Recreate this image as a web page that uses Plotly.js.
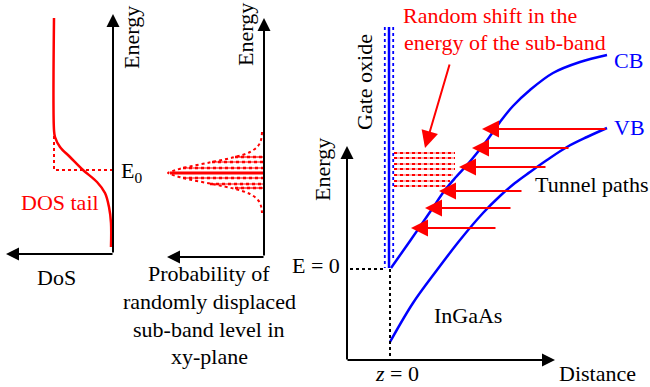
<!DOCTYPE html>
<html><head><meta charset="utf-8">
<script src="https://cdn.plot.ly/plotly-3.0.1.min.js"></script>
<style>html,body{margin:0;padding:0;background:#fff}#plot{width:650px;height:387px}</style>
</head><body><div id="plot"></div>
<script>
// ---- data (schematic; coordinates in picture units) ----
// Panel 1: DOS tail curve
const dosX = [54, 54, 55, 60, 70, 83, 97, 105, 109, 111, 111];
const dosY = [18, 130, 137, 147, 157, 170, 182, 193, 207, 223, 247];
const e0DotX = [54, 54, 113];
const e0DotY = [130, 170, 170];
// Panel 2: gaussian distribution of sub-band level
const gaussX = [262, 261, 258, 250, 235, 212, 183, 170, 168, 170, 183, 212, 235, 250, 258, 261, 262];
const gaussY = [132, 140, 146, 152, 157, 162, 168, 172, 173, 174, 178, 184, 189, 194, 200, 206, 213];
const levelY = [157, 162, 168, 178, 184, 188];
const levelStart = [235, 212, 183, 183, 210, 235];
const centerLevelY = 173;
const centerLevelStart = 170;
// Panel 3: band diagram
const cbX = [391, 410, 430, 445, 456, 467, 477, 488, 500, 513, 530, 553, 580, 607];
const cbY = [268, 241, 212, 190, 177, 165, 153, 139, 122, 106, 90, 73, 62, 55];
const vbX = [390, 413, 437, 460, 483, 500, 515, 530, 547, 567, 587, 607];
const vbY = [342, 303, 270, 240, 213, 196, 183, 172, 160, 147, 137, 128];
const shiftY = [153, 158, 164, 169, 175, 181, 186];
const shiftEnd = [455, 455, 455, 455, 453, 450, 446];
const tunnelY = [129, 148, 167, 191, 208, 228];
const tunnelHead = [482, 472, 459, 439, 425, 411];
const tunnelTail = [607, 570, 547, 523, 512, 497];

const RED = '#ff0000', BLUE = '#0000ff', FONT = '"Liberation Serif", "Times New Roman", serif';

const traces = [];
function line(x, y, color, width, dash) {
  traces.push({type: 'scatter', mode: 'lines', x: x, y: y, hoverinfo: 'skip', showlegend: false,
    line: {color: color, width: width, dash: dash || 'solid', shape: 'spline', smoothing: 1}});
}
function seg(x, y, color, width, dash) {
  traces.push({type: 'scatter', mode: 'lines', x: x, y: y, hoverinfo: 'skip', showlegend: false,
    line: {color: color, width: width, dash: dash || 'solid'}});
}
// panel 1
line(dosX, dosY, RED, 2.5);
seg(e0DotX, e0DotY, RED, 2, 'dot');
// panel 2
line(gaussX, gaussY, RED, 2, 'dot');
{
  const lx = [], ly = [];
  levelY.forEach((y, i) => { lx.push(levelStart[i], 264, null); ly.push(y, y, null); });
  seg(lx, ly, RED, 1.2);
  seg(lx, ly, RED, 2.5, 'dot');
  seg([centerLevelStart, 264], [centerLevelY, centerLevelY], RED, 3);
}
// panel 3: shifted levels
{
  const lx = [], ly = [];
  shiftY.forEach((y, i) => { lx.push(394, shiftEnd[i], null); ly.push(y, y, null); });
  seg(lx, ly, '#ff9090', 1.6);
  seg(lx, ly, RED, 2, 'dot');
}
// gate oxide
seg([389, 389], [27, 268], BLUE, 2.5);
seg([384.8, 384.8], [27, 268], BLUE, 1.8, 'dot');
seg([393.2, 393.2], [27, 260], BLUE, 1.8, 'dot');
// bands
line(cbX, cbY, BLUE, 2.5);
line(vbX, vbY, BLUE, 2.5);
// dotted references
seg([350, 386], [269, 269], '#000', 2, 'dot');
seg([390, 390], [269, 360], '#000', 2, 'dot');

const ann = [];
function arrow(x, y, ax, ay, color, width, size) {
  ann.push({x: x, y: y, ax: ax, ay: ay, xref: 'x', yref: 'y', axref: 'x', ayref: 'y', text: '',
    showarrow: true, arrowhead: 2, arrowsize: size, arrowwidth: width, arrowcolor: color, standoff: 0, startstandoff: 0});
}
function txt(x, y, t, color, opts) {
  ann.push(Object.assign({x: x, y: y, xref: 'x', yref: 'y', text: t, showarrow: false,
    font: {family: FONT, size: 22, color: color}, xanchor: 'center', yanchor: 'middle'}, opts || {}));
}
// axes panel 1
arrow(113, 14, 113, 254, '#000', 2, 1.3);
arrow(6, 254, 114, 254, '#000', 2, 1.3);
// axes panel 2
arrow(264, 18, 264, 257, '#000', 2, 1.3);
arrow(167, 257, 265, 257, '#000', 2, 1.3);
// axes panel 3
arrow(347, 146, 347, 361, '#000', 2, 1.3);
arrow(555, 360, 346, 360, '#000', 2, 1.3);
// tunnel arrows
tunnelY.forEach((y, i) => arrow(tunnelHead[i], y, tunnelTail[i], y, RED, 2, 1.7));
// pointer to shifted levels
arrow(425, 148, 450, 63, RED, 2, 1.7);

// texts
txt(131, 38, 'Energy', '#000', {textangle: -90});
txt(119, 172, 'E<sub>0</sub>', '#000', {xanchor: 'left'});
txt(60, 202, 'DOS tail', RED);
txt(56, 277, 'DoS', '#000');
txt(245, 35, 'Energy', '#000', {textangle: -90});
txt(209, 273, 'Probability of', '#000');
txt(209, 301, 'randomly displaced', '#000');
txt(209, 329, 'sub-band level in', '#000');
txt(209, 356, 'xy-plane', '#000');
txt(322, 170, 'Energy', '#000', {textangle: -90});
txt(316, 265, 'E = 0', '#000');
txt(364, 82, 'Gate oxide', '#000', {textangle: -90});
txt(490, 15, 'Random shift in the', RED);
txt(505, 42, 'energy of the sub-band', RED);
txt(612, 60, 'CB', BLUE, {xanchor: 'left'});
txt(612, 127, 'VB', BLUE, {xanchor: 'left'});
txt(591, 184, 'Tunnel paths', '#000');
txt(468, 315, 'InGaAs', '#000');
txt(397, 373, '<i>z</i> = 0', '#000');
txt(597, 373, 'Distance', '#000');

const layout = {
  width: 650, height: 387, margin: {l: 0, r: 0, t: 0, b: 0},
  paper_bgcolor: '#fff', plot_bgcolor: '#fff',
  xaxis: {range: [0, 650], visible: false, fixedrange: true},
  yaxis: {range: [387, 0], visible: false, fixedrange: true},
  annotations: ann, showlegend: false
};
Plotly.newPlot('plot', traces, layout, {staticPlot: true, displayModeBar: false});
</script></body></html>
